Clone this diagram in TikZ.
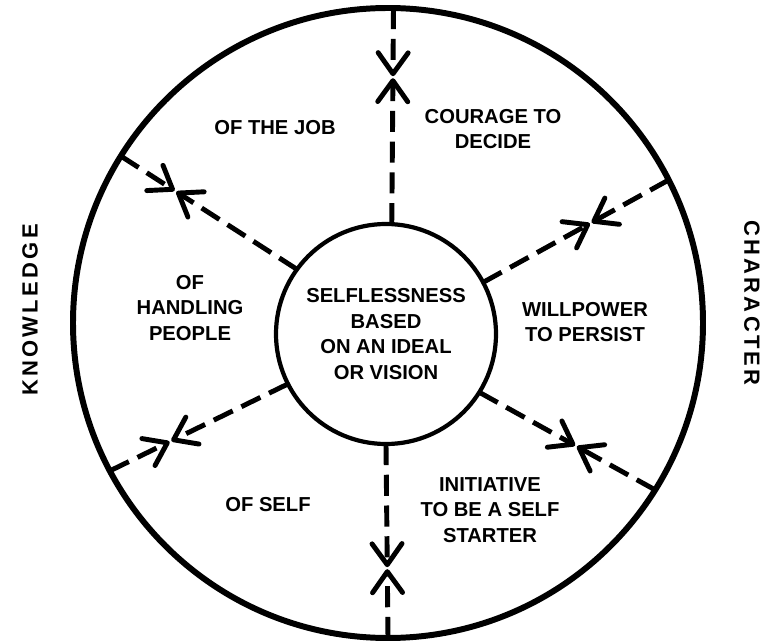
\documentclass[tikz,border=0pt]{standalone}
\usepackage{fontspec}
\setmainfont{Liberation Sans}
\usetikzlibrary{arrows.meta,calc}

\begin{document}
\begin{tikzpicture}[every node/.style={font=\bfseries\fontsize{11.5}{14.5}\selectfont,align=center},
    ring/.style={circle,draw,inner sep=0pt,outer sep=0pt},
    spoke/.style={line width=2.8pt,dash pattern=on 12pt off 5.5pt,-{Straight Barb[length=0.42cm,width=0.6cm,round]},shorten >=0.02cm},
    side/.style={font=\bfseries\fontsize{12.5}{15}\selectfont\addfontfeature{LetterSpace=15}}]
    \useasboundingbox (0,0) rectangle (15.32,-12.82);
    \node (outer) [ring, line width=3.4pt, minimum size=12.6cm] at (7.76,-6.46) {};
    \node (inner) [ring, line width=2.4pt, minimum size=4.4cm] at (7.72,-6.68) {SELFLESSNESS\\BASED\\ON AN IDEAL\\OR VISION};
    % meeting points of the arrows
    \coordinate (mt) at ($(inner.87)!0.68!(outer.89)$);
    \coordinate (mur) at ($(inner.28)!0.58!(outer.27)$);
    \coordinate (mlr) at ($(inner.-32)!0.55!(outer.-32)$);
    \coordinate (mb) at ($(inner.270)!0.64!(outer.270)$);
    \coordinate (mll) at ($(inner.207)!0.66!(outer.208)$);
    \coordinate (mul) at ($(inner.144)!0.69!(outer.148.5)$);
    \draw[spoke] (inner.87) -- (mt); \draw[spoke] (outer.89) -- (mt);
    \draw[spoke] (inner.28) -- (mur); \draw[spoke] (outer.27) -- (mur);
    \draw[spoke] (inner.-32) -- (mlr); \draw[spoke] (outer.-32) -- (mlr);
    \draw[spoke] (inner.270) -- (mb); \draw[spoke] (outer.270) -- (mb);
    \draw[spoke] (inner.207) -- (mll); \draw[spoke] (outer.208) -- (mll);
    \draw[spoke] (inner.144) -- (mul); \draw[spoke] (outer.148.5) -- (mul);
    % labels
    \node (job) at (5.5,-2.56) {OF THE JOB};
    \node (courage) at (9.86,-2.58) {COURAGE TO\\DECIDE};
    \node (people) at (3.8,-6.16) {OF\\HANDLING\\PEOPLE};
    \node (will) at (11.7,-6.44) {WILLPOWER\\TO PERSIST};
    \node (self) at (5.36,-10.1) {OF SELF};
    \node (init) at (9.8,-10.2) {INITIATIVE\\TO BE A SELF\\STARTER};
    \node (know) [side, rotate=90] at (0.6,-6.2) {KNOWLEDGE};
    \node (char) [side, rotate=-90] at (15.04,-6.06) {CHARACTER};
\end{tikzpicture}
\end{document}
